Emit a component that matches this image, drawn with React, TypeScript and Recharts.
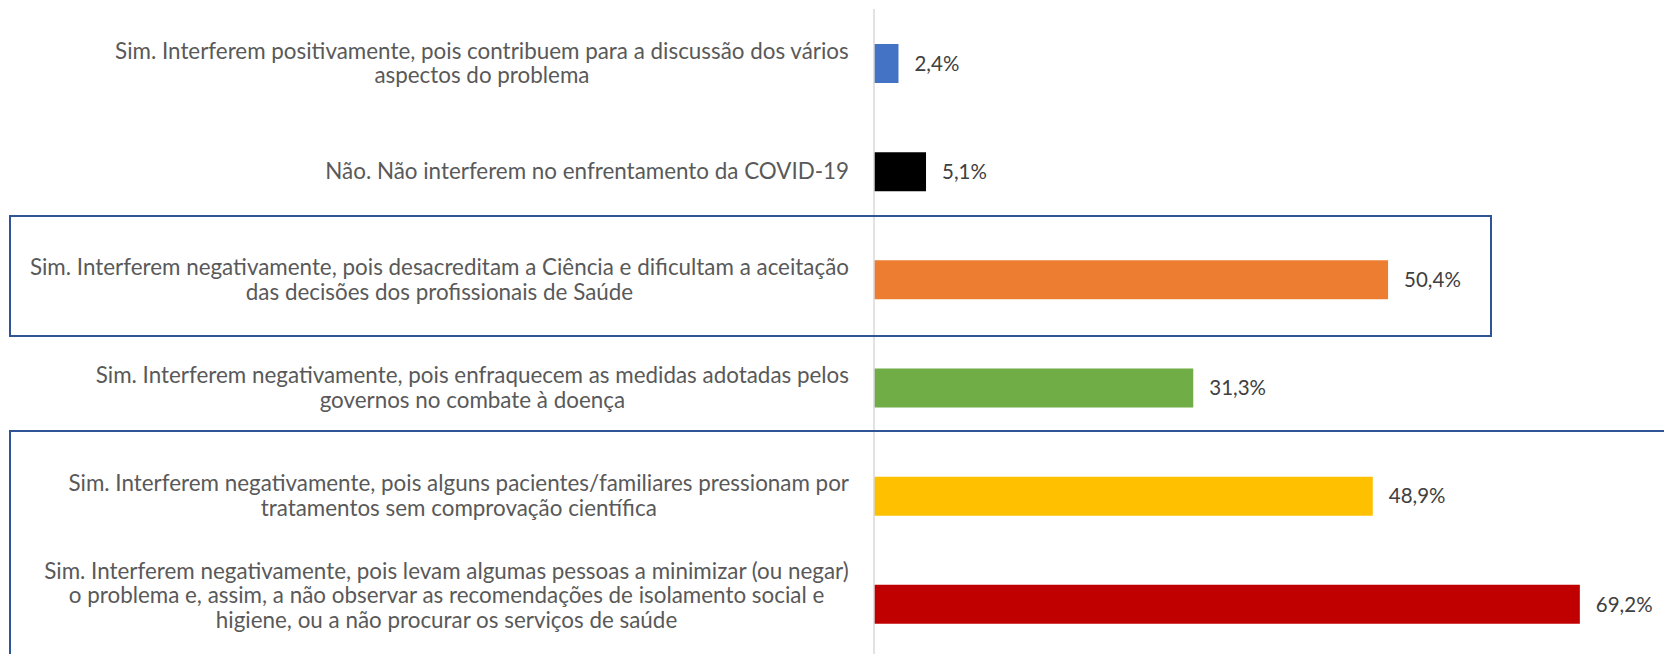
import { BarChart, Bar, XAxis, YAxis, Cell, LabelList } from "recharts";

const categories = [
  "Sim. Interferem positivamente, pois contribuem para a discussão dos vários\naspectos do problema",
  "Não. Não interferem no enfrentamento da COVID-19",
  "Sim. Interferem negativamente, pois desacreditam a Ciência e dificultam a aceitação\ndas decisões dos profissionais de Saúde",
  "Sim. Interferem negativamente, pois enfraquecem as medidas adotadas pelos\ngovernos no combate à doença",
  "Sim. Interferem negativamente, pois alguns pacientes/familiares pressionam por\ntratamentos sem comprovação científica",
  "Sim. Interferem negativamente, pois levam algumas pessoas a minimizar (ou negar)\no problema e, assim, a não observar as recomendações de isolamento social e\nhigiene, ou a não procurar os serviços de saúde",
];

const shares = [2.4, 5.1, 50.4, 31.3, 48.9, 69.2];

const barColors = ["#4472C4", "#000000", "#ED7D31", "#70AD47", "#FFC000", "#C00000"];

const data = categories.map((name, i) => ({ name, value: shares[i] }));

const FONT = "Lato";
const LABEL_SIZE = 22.4;
const VALUE_SIZE = 20.5;
const LINE_H = 24.5;
const LABEL_RIGHT = 849;
const LABEL_BOTTOM = 632;

let ctx: CanvasRenderingContext2D | null = null;
function measure(text: string) {
  if (!ctx) ctx = document.createElement("canvas").getContext("2d");
  if (!ctx) return text.length * LABEL_SIZE * 0.5;
  ctx.font = `${LABEL_SIZE}px ${FONT}`;
  return ctx.measureText(text).width;
}

function CategoryTick(props: any) {
  const { y, payload } = props;
  const lines = String(payload.value).split("\n");
  const maxW = Math.max(...lines.map(measure));
  const cx = LABEL_RIGHT - maxW / 2;
  const shift = Math.max(0, y + (lines.length * LINE_H) / 2 - LABEL_BOTTOM);
  const top = y - shift - ((lines.length - 1) * LINE_H) / 2;
  return (
    <text textAnchor="middle" fill="#595959" fontSize={LABEL_SIZE} fontFamily={FONT}>
      {lines.map((l, i) => (
        <tspan key={i} x={cx} y={top + i * LINE_H} dy="0.35em">
          {l}
        </tspan>
      ))}
    </text>
  );
}

const fmt = (v: any) => `${Number(v).toFixed(1).replace(".", ",")}%`;

export default function App() {
  return (
    <div
      style={{
        position: "absolute",
        left: 0,
        top: 0,
        width: 1664,
        height: 654,
        overflow: "hidden",
        background: "#fff",
      }}
    >
      <BarChart
        width={1664}
        height={660}
        data={data}
        layout="vertical"
        margin={{ top: 9, right: 76, bottom: 2, left: 0 }}
      >
        <XAxis type="number" domain={[0, 70]} hide />
        <YAxis
          type="category"
          dataKey="name"
          width={874}
          interval={0}
          tickLine={false}
          axisLine={{ stroke: "#D9D9D9", strokeWidth: 1.5 }}
          tick={<CategoryTick />}
        />
        <Bar dataKey="value" barSize={39} isAnimationActive={false}>
          {data.map((d, i) => (
            <Cell key={d.name} fill={barColors[i]} />
          ))}
          <LabelList
            dataKey="value"
            position="right"
            offset={16}
            formatter={fmt}
            fill="#404040"
            fontSize={VALUE_SIZE}
            fontFamily={FONT}
          />
        </Bar>
      </BarChart>
      <div
        style={{
          position: "absolute",
          left: 8.5,
          top: 214.5,
          width: 1483.5,
          height: 122.5,
          border: "2.5px solid #2F5597",
          boxSizing: "border-box",
          pointerEvents: "none",
        }}
      />
      <div
        style={{
          position: "absolute",
          left: 8.5,
          top: 430,
          width: 1700,
          height: 300,
          border: "2.5px solid #2F5597",
          boxSizing: "border-box",
          pointerEvents: "none",
        }}
      />
    </div>
  );
}
